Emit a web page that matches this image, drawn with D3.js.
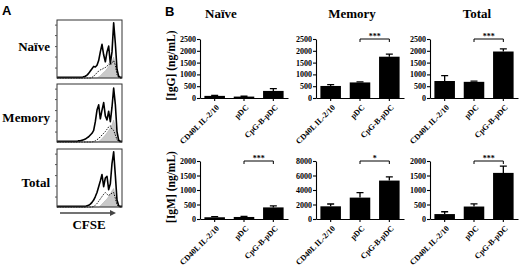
<!DOCTYPE html>
<html>
<head>
<meta charset="utf-8">
<script src="https://cdn.jsdelivr.net/npm/d3@7"></script>
<style>
    body { margin: 0; background: #fff; }
    svg { display: block; }
</style>
</head>
<body>
<svg id="fig" width="520" height="266"></svg>
<script>
// ---- data ----
const subsets = ['Naïve', 'Memory', 'Total'];
const groups = ['CD40L IL-2/10', 'pDC', 'CpG-B-pDC'];

// panel B, one inner array per subset (naive, memory, total)
const igGMeans = [[90, 60, 300], [510, 660, 1750], [720, 685, 1970]];
const igGErrors = [[25, 15, 100], [60, 25, 110], [230, 30, 110]];
const igMMeans = [[60, 70, 400], [1750, 2950, 5300], [170, 430, 1590]];
const igMErrors = [[20, 20, 55], [320, 700, 500], [80, 90, 230]];

const igGTicks = [0, 500, 1000, 1500, 2000, 2500];
const igMTicks = [
    [0, 500, 1000, 1500, 2000],
    [0, 2000, 4000, 6000, 8000],
    [0, 500, 1000, 1500, 2000]
];
const igGStars = [null, '***', '***'];
const igMStars = ['***', '*', '***'];

// panel A, CFSE histograms (40 bins, % of max count)
const naiveSolid = [1,1,1,1,1,1,1,1,1,1, 1,1,1,1,1,1,2,3,5,8, 12,16,20,19,22,30,45,58,40,28, 45,55,25,45,95,60,15,3,1,1];
const naiveDashed = [0,0,0,0,0,0,0,0,0,0, 0,0,0,0,0,0,0,0,0,0, 0,1,3,6,9,12,14,15,17,18, 20,24,22,26,30,22,6,1,0,0];
const naiveGray = [0,0,0,0,0,0,0,0,0,0, 0,0,0,0,0,0,0,0,0,0, 0,0,0,0,0,2,4,7,10,12, 16,20,22,28,36,25,6,1,0,0];

const memorySolid = [1,1,1,1,1,1,1,1,1,1, 1,1,1,2,2,3,4,5,7,9, 12,15,20,35,55,64,40,55,68,45, 38,53,35,60,93,65,18,3,1,1];
const memoryDashed = [0,0,0,0,0,0,0,0,0,0, 0,0,0,0,0,0,0,0,0,0, 0,0,1,2,4,6,9,12,15,18, 22,26,28,22,20,12,4,1,0,0];
const memoryGray = [0,0,0,0,0,0,0,0,0,0, 0,0,0,0,0,0,0,0,0,0, 0,0,0,0,0,1,3,6,9,12, 16,20,24,30,38,26,7,1,0,0];

const totalSolid = [1,1,1,1,1,1,1,1,1,1, 1,1,1,1,1,1,1,1,2,3, 5,8,12,18,25,35,45,56,35,50, 53,30,40,75,95,55,12,2,1,1];
const totalDashed = [0,0,0,0,0,0,0,0,0,0, 0,0,0,0,0,0,0,0,0,0, 0,0,1,3,6,10,14,18,22,25, 22,20,22,24,25,15,4,1,0,0];
const totalGray = [0,0,0,0,0,0,0,0,0,0, 0,0,0,0,0,0,0,0,0,0, 0,0,0,0,0,0,2,5,8,11, 14,18,22,28,32,20,5,1,0,0];

const histTicks = [18, 37, 55, 74, 92];

class Figure {
    constructor() {
        this.config = {
            serif: '"Liberation Serif", "Times New Roman", serif',
            sans: '"Liberation Sans", Arial, sans-serif',
            hist: {
                left: 57,
                width: 65,
                height: 58,
                tops: [20, 84, 149],
                labelY: [51, 122, 187]
            },
            bars: {
                lefts: [200, 316, 430],
                width: 88,
                rows: [[98, 39], [219, 161]],
                titleX: [221, 352, 477]
            }
        }
        this.svg = d3.select('#fig');
    }

    text(x, y, str, size, family) {
        return this.svg.append('text')
            .attr('x', x)
            .attr('y', y)
            .style('font-family', family || this.config.serif)
            .style('font-weight', 'bold')
            .style('font-size', size + 'px')
            .text(str);
    }

    drawLetters() {
        this.text(2, 15, 'A', 13, this.config.sans);
        this.text(165, 16, 'B', 13, this.config.sans);
    }

    drawHistograms() {
        let cfg = this.config.hist;
        let sets = [
            [naiveSolid, naiveDashed, naiveGray],
            [memorySolid, memoryDashed, memoryGray],
            [totalSolid, totalDashed, totalGray]
        ];
        let x = d3.scaleLinear().domain([0, naiveSolid.length - 1])
            .range([cfg.left, cfg.left + cfg.width]);

        sets.forEach((s, i) => {
            let top = cfg.tops[i];
            let y = d3.scaleLinear().domain([0, 100]).range([top + cfg.height, top]);
            let g = this.svg.append('g');

            g.append('path')
                .datum(s[2])
                .attr('d', d3.area().x((d, j) => x(j)).y0(y(0)).y1(d => y(d)))
                .attr('fill', '#c9c9c9')
                .attr('stroke', '#aaa')
                .attr('stroke-width', 0.5)
                ;
            g.append('path')
                .datum(s[1])
                .attr('d', d3.line().x((d, j) => x(j)).y(d => y(d)))
                .attr('fill', 'none')
                .attr('stroke', '#111')
                .attr('stroke-width', 1)
                .attr('stroke-dasharray', '1.5,1.2')
                ;
            g.append('path')
                .datum(s[0])
                .attr('d', d3.line().x((d, j) => x(j)).y(d => y(d)))
                .attr('fill', 'none')
                .attr('stroke', '#000')
                .attr('stroke-width', 1.6)
                .attr('stroke-linejoin', 'round')
                ;
            g.append('rect')
                .attr('x', cfg.left)
                .attr('y', top)
                .attr('width', cfg.width)
                .attr('height', cfg.height)
                .attr('fill', 'none')
                .attr('stroke', '#333')
                .attr('stroke-width', 1)
                ;
            g.append('g')
                .attr('transform', `translate(${cfg.left},0)`)
                .call(d3.axisLeft(y).tickValues(histTicks).tickSize(2).tickSizeOuter(0).tickFormat(''))
                .call(a => a.select('.domain').remove())
                .selectAll('line').attr('stroke', '#555')
                ;

            this.text(50, cfg.labelY[i], subsets[i], 13)
                .style('text-anchor', 'end');
        });

        // CFSE arrow under the last box
        let ay = cfg.tops[2] + cfg.height + 6;
        this.svg.append('line')
            .attr('x1', cfg.left + 3).attr('x2', cfg.left + 54)
            .attr('y1', ay).attr('y2', ay)
            .attr('stroke', '#444').attr('stroke-width', 1.6);
        this.svg.append('path')
            .attr('d', `M${cfg.left + 59},${ay}L${cfg.left + 53},${ay - 3}L${cfg.left + 53},${ay + 3}Z`)
            .attr('fill', '#444');
        this.text(89, 229, 'CFSE', 13).style('text-anchor', 'middle');
    }

    drawBarPanel(row, col, means, errors, ticks, stars) {
        let cfg = this.config.bars;
        let x0 = cfg.lefts[col];
        let [yBottom, yTop] = cfg.rows[row];
        let x = d3.scaleBand().domain(groups)
            .range([x0, x0 + cfg.width])
            .paddingInner(0.3)
            .paddingOuter(0.15);
        let y = d3.scaleLinear().domain([0, d3.max(ticks)]).range([yBottom, yTop]);
        let rows = groups.map((name, i) => ({ name: name, mean: means[i], err: errors[i] }));
        let g = this.svg.append('g');
        let mid = d => x(d) + x.bandwidth() / 2;

        g.selectAll('rect')
            .data(rows)
            .enter()
            .append('rect')
            .attr('x', d => x(d.name))
            .attr('width', x.bandwidth())
            .attr('y', d => y(d.mean))
            .attr('height', d => y(0) - y(d.mean))
            .attr('fill', '#000')
            ;
        g.selectAll('path.err')
            .data(rows)
            .enter()
            .append('path')
            .attr('class', 'err')
            .attr('d', d => {
                let cx = mid(d.name), t = y(d.mean + d.err);
                return `M${cx},${y(d.mean)}V${t}M${cx - 3.5},${t}H${cx + 3.5}`;
            })
            .attr('stroke', '#000')
            .attr('stroke-width', 1.3)
            .attr('fill', 'none')
            ;

        let yAxis = g.append('g')
            .attr('transform', `translate(${x0},0)`)
            .call(d3.axisLeft(y).tickValues(ticks).tickSize(3).tickSizeOuter(0).tickPadding(1).tickFormat(d3.format('d')));
        yAxis.selectAll('text')
            .style('font-family', this.config.serif)
            .style('font-weight', 'bold')
            .style('font-size', '8px');

        let xAxis = g.append('g')
            .attr('transform', `translate(0,${yBottom})`)
            .call(d3.axisBottom(x).tickSize(3).tickSizeOuter(0));
        xAxis.selectAll('text')
            .attr('x', -3.5)
            .attr('y', 7.8)
            .attr('dy', '0.35em')
            .attr('transform', 'rotate(-45)')
            .style('text-anchor', 'end')
            .style('font-family', this.config.serif)
            .style('font-weight', 'bold')
            .style('font-size', '8px');
        g.selectAll('.domain, .tick line').attr('stroke-width', 1.1);

        if (stars) {
            let a = mid(groups[1]), b = mid(groups[2]);
            g.append('path')
                .attr('d', `M${a},${yTop + 3}V${yTop}H${b}V${yTop + 3}`)
                .attr('fill', 'none')
                .attr('stroke', '#000')
                .attr('stroke-width', 1);
            g.append('text')
                .attr('x', (a + b) / 2)
                .attr('y', yTop - 0.5)
                .style('text-anchor', 'middle')
                .style('font-family', this.config.serif)
                .style('font-weight', 'bold')
                .style('font-size', '8px')
                .text(stars);
        }

        if (row == 0) {
            this.text(cfg.titleX[col], 18, subsets[col], 13).style('text-anchor', 'middle');
        }
        if (col == 0) {
            let label = row == 0 ? '[IgG] (ng/mL)' : '[IgM] (ng/mL)';
            this.text(0, 0, label, 11.5)
                .attr('transform', `translate(175,${(yBottom + yTop) / 2 - 3}) rotate(-90)`)
                .style('text-anchor', 'middle');
        }
    }

    draw() {
        this.drawLetters();
        this.drawHistograms();
        subsets.forEach((s, i) => {
            this.drawBarPanel(0, i, igGMeans[i], igGErrors[i], igGTicks, igGStars[i]);
            this.drawBarPanel(1, i, igMMeans[i], igMErrors[i], igMTicks[i], igMStars[i]);
        });
    }
}

new Figure().draw();
</script>
</body>
</html>
